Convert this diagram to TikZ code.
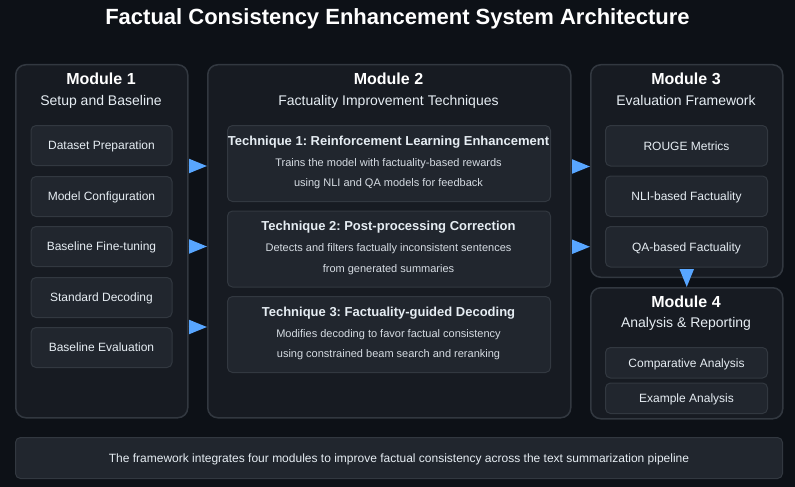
\documentclass[tikz,border=0pt]{standalone}
\usepackage{fontspec}
\setmainfont{Liberation Sans}
\usetikzlibrary{arrows.meta}
\definecolor{bg}{RGB}{13,17,23}
\definecolor{panel}{RGB}{23,27,34}
\definecolor{cell}{RGB}{33,38,46}
\definecolor{edge}{RGB}{50,56,64}
\definecolor{ink}{RGB}{230,237,243}
\definecolor{soft}{RGB}{214,220,227}
\definecolor{flowblue}{RGB}{88,166,255}
\frenchspacing
\begin{document}
\begin{tikzpicture}[x=1pt,y=-1pt,
    module/.style={draw=edge,line width=1.5pt,fill=panel,rounded corners=10pt,anchor=north west,inner sep=0pt},
    item/.style={draw=edge,line width=1pt,fill=cell,rounded corners=5pt,anchor=north west,inner sep=0pt,text height=8.6pt,text depth=0pt,font=\fontsize{12}{14}\selectfont,text=ink},
    modhead/.style={text height=11.5pt,text depth=0pt,font=\bfseries\fontsize{16}{19}\selectfont,text=white},
    modsub/.style={text height=10pt,text depth=0pt,font=\fontsize{14}{17}\selectfont,text=ink},
    techhead/.style={text height=9.3pt,text depth=0pt,font=\bfseries\fontsize{13}{16}\selectfont,text=ink},
    techtext/.style={align=center,font=\fontsize{11}{20.5}\selectfont,text=soft},
    flow/.style={draw=flowblue,line width=2pt,-{Triangle[length=18pt,width=14pt]}}]
\fill[bg] (0,0) rectangle (795,487);
\useasboundingbox (0,0) rectangle (795,487);
\node[text height=15.8pt,text depth=0pt,font=\bfseries\fontsize{22}{26}\selectfont,text=white] (title) at (397.5,17) {Factual Consistency Enhancement System Architecture};

\node[module,minimum width=172pt,minimum height=353pt] (m1) at (15,64) {};
\node[modhead] (m1h) at (101,79) {Module 1};
\node[modsub] (m1s) at (101,100) {Setup and Baseline};
\node[item,minimum width=141pt,minimum height=40pt] (dp) at (30.5,125) {Dataset Preparation};
\node[item,minimum width=141pt,minimum height=40pt] (mc) at (30.5,176) {Model Configuration};
\node[item,minimum width=141pt,minimum height=40pt] (bf) at (30.5,226) {Baseline Fine-tuning};
\node[item,minimum width=141pt,minimum height=40pt] (sd) at (30.5,277) {Standard Decoding};
\node[item,minimum width=141pt,minimum height=40pt] (be) at (30.5,327) {Baseline Evaluation};

\node[module,minimum width=363pt,minimum height=353pt] (m2) at (207,64) {};
\node[modhead] (m2h) at (388.5,79) {Module 2};
\node[modsub] (m2s) at (388.5,100) {Factuality Improvement Techniques};
\node[item,minimum width=323pt,minimum height=76pt] (t1) at (227,125) {};
\node[techhead] (t1h) at (388.5,140.5) {Technique 1: Reinforcement Learning Enhancement};
\node[techtext] (t1d) at (388.5,173.5) {Trains the model with factuality-based rewards\\using NLI and QA models for feedback};
\node[item,minimum width=323pt,minimum height=76pt] (t2) at (227,210.5) {};
\node[techhead] (t2h) at (388.5,226) {Technique 2: Post-processing Correction};
\node[techtext] (t2d) at (388.5,259) {Detects and filters factually inconsistent sentences\\from generated summaries};
\node[item,minimum width=323pt,minimum height=76pt] (t3) at (227,296) {};
\node[techhead] (t3h) at (388.5,312) {Technique 3: Factuality-guided Decoding};
\node[techtext] (t3d) at (388.5,344.5) {Modifies decoding to favor factual consistency\\using constrained beam search and reranking};

\node[module,minimum width=192pt,minimum height=212.5pt] (m3) at (590,64) {};
\node[modhead] (m3h) at (686,79) {Module 3};
\node[modsub] (m3s) at (686,100) {Evaluation Framework};
\node[item,minimum width=162pt,minimum height=40.5pt] (rm) at (605,125) {ROUGE Metrics};
\node[item,minimum width=162pt,minimum height=40.5pt] (nf) at (605,175.5) {NLI-based Factuality};
\node[item,minimum width=162pt,minimum height=40.5pt] (qf) at (605,226) {QA-based Factuality};

\node[module,minimum width=192pt,minimum height=131pt] (m4) at (590,287) {};
\node[modhead] (m4h) at (686,301.5) {Module 4};
\node[modsub] (m4s) at (686,322.5) {Analysis \& Reporting};
\node[item,minimum width=162pt,minimum height=30.5pt] (ca) at (605,347) {Comparative Analysis};
\node[item,minimum width=162pt,minimum height=30.5pt] (ea) at (605,382.5) {Example Analysis};

\draw[flow] (m1.east |- dp.south) -- (m2.west |- dp.south);
\draw[flow] (m1.east |- bf.center) -- (m2.west |- bf.center);
\draw[flow] (m1.east |- be.north) -- (m2.west |- be.north);
\draw[flow] (m2.east |- rm.south) -- (m3.west |- rm.south);
\draw[flow] (m2.east |- qf.center) -- (m3.west |- qf.center);
\draw[flow] (m3.south) -- (m4.north);

\node[item,minimum width=767pt,minimum height=41pt] (note) at (15,437) {The framework integrates four modules to improve factual consistency across the text summarization pipeline};
\end{tikzpicture}
\end{document}
